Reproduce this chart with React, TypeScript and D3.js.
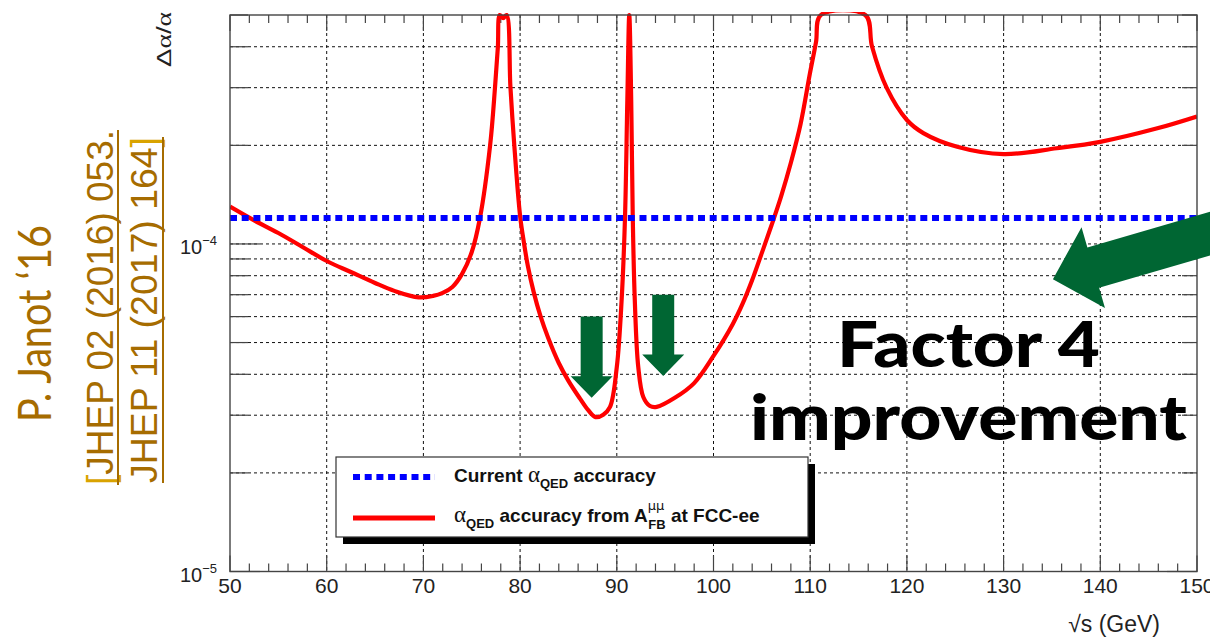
import React from 'react';
import * as d3 from 'd3';

// ---- data ----
const energyGeV = [50, 52.5, 55, 57.5, 60, 62.5, 65, 67, 69.5, 71, 72, 73, 74, 75, 75.85, 76.9, 77.4, 77.7, 77.9, 78.25, 78.6, 79.0, 79.4, 80.0, 80.4, 80.8, 81.4, 82.1, 82.9, 84.0, 85.0, 86.2, 87.0, 87.8, 88.6, 89.3, 90.0, 90.5, 90.85, 91.09, 91.29, 91.49, 91.65, 91.86, 92.22, 92.74, 93.43, 94.13, 96, 98, 100, 102, 103, 104, 105, 106, 107, 108, 109, 110, 110.6, 111.1, 115.7, 116.4, 117.9, 120, 121.7, 125.2, 130, 135.5, 140, 145.8, 150];
const fccAccuracy = [1.30e-4, 1.18e-4, 1.08e-4, 9.79e-5, 8.87e-5, 8.21e-5, 7.60e-5, 7.19e-5, 6.87e-5, 6.94e-5, 7.09e-5, 7.39e-5, 8.10e-5, 9.45e-5, 1.20e-4, 2.0e-4, 2.99e-4, 3.99e-4, 5.0e-4, 4.89e-4, 5.0e-4, 3.01e-4, 2.0e-4, 1.217e-4, 1.007e-4, 8.57e-5, 7.14e-5, 6.03e-5, 5.17e-5, 4.33e-5, 3.82e-5, 3.37e-5, 3.12e-5, 2.96e-5, 3.01e-5, 3.18e-5, 4.21e-5, 6.75e-5, 1.21e-4, 2.75e-4, 5.0e-4, 2.75e-4, 1.21e-4, 6.75e-5, 4.21e-5, 3.41e-5, 3.20e-5, 3.18e-5, 3.39e-5, 3.76e-5, 4.55e-5, 5.70e-5, 6.56e-5, 7.76e-5, 9.39e-5, 1.14e-4, 1.40e-4, 1.77e-4, 2.32e-4, 3.35e-4, 4.13e-4, 5.0e-4, 5.0e-4, 4.0e-4, 3.0e-4, 2.39e-4, 2.18e-4, 1.98e-4, 1.88e-4, 1.96e-4, 2.05e-4, 2.25e-4, 2.45e-4];
const currentEnergy = [50, 150];
const currentAccuracy = [1.2e-4, 1.2e-4];

const xMajorTicks = [50, 60, 70, 80, 90, 100, 110, 120, 130, 140, 150];
const xMinorTicks = d3.range(50, 151, 2).filter((v) => v % 10 !== 0);
const yMajorTicks = [1e-5, 1e-4];
const yMajorLabels = ['−5', '−4'];
const yMinorTicks = [2e-5, 3e-5, 4e-5, 5e-5, 6e-5, 7e-5, 8e-5, 9e-5, 2e-4, 3e-4, 4e-4, 5e-4];

// annotation arrows (data coordinates: energy, value)
const smallArrowX = [87.4, 94.8];
const smallArrowTop = [6e-5, 7e-5];
const smallArrowTip = [3.39e-5, 3.95e-5];

const W = 1210, H = 639;
const L = 230, R = 1197, T = 15, B = 571.5;
const GOLD = '#A66C00';
const GOLD_LIGHT = '#D9A300';
const GREEN = '#006633';
const SANS = '"Liberation Sans", Arial, Helvetica, sans-serif';
const SERIF = '"Liberation Serif", "DejaVu Serif", serif';

export default function App() {
  const x = d3.scaleLinear().domain([50, 150]).range([L, R]);
  const y = d3.scaleLog().domain([1e-5, 5e-4]).range([B, T]);

  const fcc = energyGeV.map((e, i) => [e, fccAccuracy[i]] as [number, number]);
  const cur = currentEnergy.map((e, i) => [e, currentAccuracy[i]] as [number, number]);
  const smooth = d3
    .line<[number, number]>()
    .x((d) => x(d[0]))
    .y((d) => y(d[1]))
    .curve(d3.curveCatmullRom.alpha(0.5));
  const straight = d3
    .line<[number, number]>()
    .x((d) => x(d[0]))
    .y((d) => y(d[1]));

  const gridStyle = { stroke: '#111', strokeWidth: 1, strokeDasharray: '3 3' };
  const tickColor = '#444';

  // big arrow geometry
  const bigTipX = x(135.1), bigTipY = y(7.8e-5);
  const bigArrow = [[0, 0], [42, -42], [42, -21], [240, -21], [240, 21], [42, 21], [42, 42]];

  return (
    <svg width={W} height={H} style={{ position: 'absolute', left: 0, top: 0, background: '#fff' }} xmlns="http://www.w3.org/2000/svg">
      <defs>
        <clipPath id="plot">
          <rect x={L} y={T - 3} width={R - L} height={B - T + 3} />
        </clipPath>
      </defs>
      <rect x={0} y={0} width={W} height={H} fill="#fff" />

      {/* grid */}
      {xMajorTicks.slice(1, -1).map((v) => (
        <line key={'gx' + v} x1={x(v)} x2={x(v)} y1={T} y2={B} style={gridStyle} />
      ))}
      {[...yMinorTicks.slice(0, -1), 1e-4].map((v) => (
        <line key={'gy' + v} x1={L} x2={R} y1={y(v)} y2={y(v)} style={gridStyle} />
      ))}

      {/* ticks */}
      {xMajorTicks.map((v) => (
        <g key={'tx' + v} stroke={tickColor} strokeWidth={1.2}>
          <line x1={x(v)} x2={x(v)} y1={B} y2={B - 16} />
          <line x1={x(v)} x2={x(v)} y1={T} y2={T + 16} />
        </g>
      ))}
      {xMinorTicks.map((v) => (
        <g key={'txm' + v} stroke={tickColor} strokeWidth={1.2}>
          <line x1={x(v)} x2={x(v)} y1={B} y2={B - 8} />
          <line x1={x(v)} x2={x(v)} y1={T} y2={T + 8} />
        </g>
      ))}
      {yMajorTicks.map((v) => (
        <g key={'ty' + v} stroke={tickColor} strokeWidth={1.2}>
          <line x1={L} x2={L + 30} y1={y(v)} y2={y(v)} />
          <line x1={R} x2={R - 30} y1={y(v)} y2={y(v)} />
        </g>
      ))}
      {yMinorTicks.map((v) => (
        <g key={'tym' + v} stroke={tickColor} strokeWidth={1.2}>
          <line x1={L} x2={L + 18} y1={y(v)} y2={y(v)} />
          <line x1={R} x2={R - 15} y1={y(v)} y2={y(v)} />
        </g>
      ))}

      {/* tick labels */}
      {xMajorTicks.map((v) => (
        <text key={'lx' + v} x={x(v)} y={593} textAnchor="middle" fontFamily={SANS} fontSize={21} fill="#222">
          {v}
        </text>
      ))}
      {yMajorTicks.map((v, i) => (
        <text key={'ly' + v} x={217} y={y(v) + 10} textAnchor="end" fontFamily={SANS} fontSize={20} fill="#222">
          10
          <tspan fontSize={13} dy={-9}>{yMajorLabels[i]}</tspan>
        </text>
      ))}

      {/* axis titles */}
      <text transform="translate(171,12) rotate(-90)" textAnchor="end" fontFamily={SANS} fontSize={21} fill="#222" textLength={55} lengthAdjust="spacingAndGlyphs">
        Δ<tspan fontFamily={SERIF}>α</tspan>/<tspan fontFamily={SERIF}>α</tspan>
      </text>
      <text x={1160} y={632} textAnchor="end" fontFamily={SANS} fontSize={23} fill="#222">
        √s (GeV)
      </text>

      {/* curves */}
      <g clipPath="url(#plot)">
        <path d={smooth(fcc) || ''} fill="none" stroke="#ff0000" strokeWidth={4.2} strokeLinejoin="round" />
        <path d={straight(cur) || ''} fill="none" stroke="#0000ff" strokeWidth={6} strokeDasharray="7 4.7" />
      </g>

      {/* frame */}
      <rect x={L} y={T} width={R - L} height={B - T} fill="none" stroke="#444" strokeWidth={1.4} />

      {/* legend */}
      <rect x={343} y={464} width={472} height={80} fill="#000" />
      <rect x={336} y={457} width={472} height={80} fill="#fff" stroke="#333" strokeWidth={1.2} />
      <line x1={353} x2={435} y1={477} y2={477} stroke="#0000ff" strokeWidth={6} strokeDasharray="7 4.7" />
      <line x1={353} x2={435} y1={518} y2={518} stroke="#ff0000" strokeWidth={5} />
      <text x={454} y={482} fontFamily={SANS} fontWeight="bold" fontSize={19} fill="#111">
        Current{' '}
        <tspan fontFamily={SERIF} fontWeight="normal" fontSize={23}>α</tspan>
        <tspan fontSize={13} dy={6}>QED</tspan>
        <tspan dy={-6}> accuracy</tspan>
      </text>
      <text x={454} y={522} fontFamily={SANS} fontWeight="bold" fontSize={19} fill="#111">
        <tspan fontFamily={SERIF} fontWeight="normal" fontSize={23}>α</tspan>
        <tspan fontSize={13} dy={6}>QED</tspan>
        <tspan dy={-6}> accuracy from A</tspan>
        <tspan fontSize={13} dy={-12} fontFamily='"DejaVu Sans", sans-serif' fontWeight="normal">μμ</tspan>
        <tspan fontSize={13} dx={-16} dy={19}>FB</tspan>
        <tspan dy={-7}> at FCC-ee</tspan>
      </text>

      {/* green arrows */}
      {smallArrowX.map((e, i) => {
        const cx = x(e), top = y(smallArrowTop[i]), tip = y(smallArrowTip[i]);
        const headY = tip - 21.5;
        const pts = [
          [cx - 11, top], [cx + 11, top], [cx + 11, headY], [cx + 21, headY],
          [cx, tip], [cx - 21, headY], [cx - 11, headY],
        ];
        return <polygon key={'ar' + i} points={pts.map((p) => p.join(',')).join(' ')} fill={GREEN} />;
      })}
      <polygon
        transform={`translate(${bigTipX},${bigTipY}) rotate(-16.2)`}
        points={bigArrow.map((p) => p.join(',')).join(' ')}
        fill={GREEN}
      />

      {/* big annotation text */}
      <text x={837} y={367} fontFamily='Lato, "Open Sans", sans-serif' fontWeight={900} fontSize={62} fill="#000" textLength={263} lengthAdjust="spacingAndGlyphs">
        Factor 4
      </text>
      <text x={750} y={440} fontFamily='Lato, "Open Sans", sans-serif' fontWeight={900} fontSize={62} fill="#000" textLength={437} lengthAdjust="spacingAndGlyphs">
        improvement
      </text>

      {/* citation, rotated */}
      <text transform="translate(51,422) rotate(-90)" fontFamily='Lato, "Open Sans", sans-serif' fontSize={46} fill={GOLD} textLength={197} lengthAdjust="spacingAndGlyphs">
        P. Janot ‘16
      </text>
      <text transform="translate(113,485) rotate(-90)" fontFamily={SANS} fontSize={37} fill={GOLD} textLength={355} lengthAdjust="spacingAndGlyphs">
        <tspan fill={GOLD_LIGHT}>[</tspan>JHEP 02 (2016) 053.
      </text>
      <line x1={118} x2={118} y1={485} y2={130} stroke={GOLD} strokeWidth={2} />
      <text transform="translate(157,483) rotate(-90)" fontFamily={SANS} fontSize={37} fill={GOLD} textLength={346} lengthAdjust="spacingAndGlyphs">
        JHEP 11 (2017) 164<tspan fill={GOLD_LIGHT}>]</tspan>
      </text>
      <line x1={163} x2={163} y1={483} y2={137} stroke={GOLD} strokeWidth={2} />
    </svg>
  );
}
